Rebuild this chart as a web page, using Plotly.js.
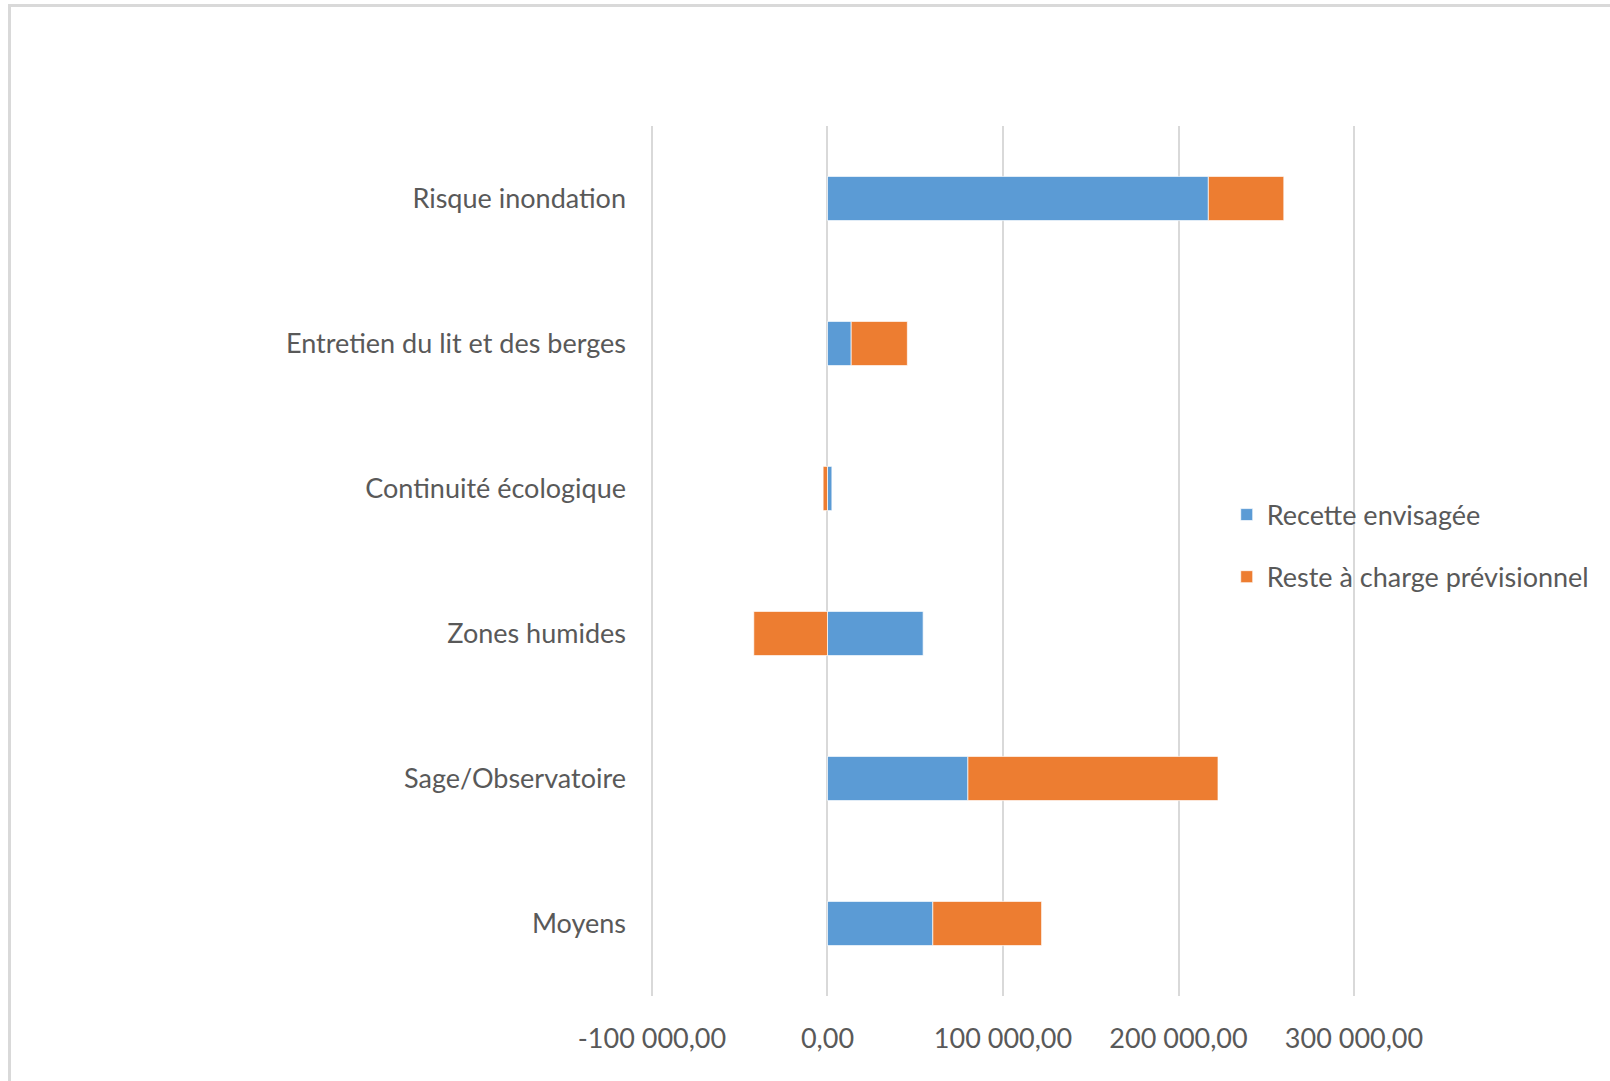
<!DOCTYPE html>
<html>
<head>
<meta charset="utf-8">
<script src="https://cdn.plot.ly/plotly-3.0.1.min.js"></script>
<style>
  html, body { margin: 0; padding: 0; background: #fff; }
  #wrap { position: relative; width: 1610px; height: 1081px; }
  #chart { position: absolute; left: 0; top: 0; width: 1610px; height: 1081px; }
  #frame { position: absolute; left: 8px; top: 4px; width: 1610px; height: 1090px;
           border-top: 3px solid #d9d9d9; border-left: 3px solid #d9d9d9; pointer-events: none; }
</style>
</head>
<body>
<div id="wrap">
  <div id="chart"></div>
  <div id="frame"></div>
</div>
<script>
const categories = ["Risque inondation", "Entretien du lit et des berges", "Continuité écologique",
                    "Zones humides", "Sage/Observatoire", "Moyens"];
const recetteEnvisagee = [217000, 13500, 2500, 54500, 80000, 60000];
const resteACharge = [43000, 32000, -2500, -42000, 142500, 62000];
const seriesNames = ["Recette envisagée", "Reste à charge prévisionnel"];
const tickValues = [-100000, 0, 100000, 200000, 300000];
const tickLabels = ["-100 000,00", "0,00", "100 000,00", "200 000,00", "300 000,00"];

const FONT = 'Lato, "Liberation Sans", sans-serif';
const TXT = '#595959';
const FS = 27;

const traces = [
  {
    type: 'bar', orientation: 'h', name: seriesNames[0],
    y: categories, x: recetteEnvisagee,
    marker: { color: '#5B9BD5', line: { color: 'rgba(255,255,255,0.7)', width: 1 } },
    legendgroup: 'a', hoverinfo: 'x+y'
  },
  {
    type: 'bar', orientation: 'h', name: seriesNames[1],
    y: categories, x: resteACharge,
    marker: { color: '#ED7D31', line: { color: 'rgba(255,255,255,0.7)', width: 1 } },
    legendgroup: 'b', hoverinfo: 'x+y'
  }
];

const layout = {
  width: 1610, height: 1081,
  paper_bgcolor: '#ffffff', plot_bgcolor: '#ffffff',
  margin: { l: 649, r: 253, t: 126, b: 85, pad: 0, autoexpand: false },
  barmode: 'relative',
  bargap: 0.695,
  font: { family: FONT, size: FS, color: TXT },
  showlegend: true,
  legend: {
    x: 0.816, y: 0.581, xanchor: 'left', yanchor: 'top',
    bgcolor: 'rgba(0,0,0,0)', borderwidth: 0,
    traceorder: 'grouped', tracegroupgap: 24,
    font: { family: FONT, size: FS, color: TXT }
  },
  xaxis: {
    range: [-101700, 301700],
    tickmode: 'array', tickvals: tickValues, ticktext: tickLabels,
    showgrid: true, gridcolor: '#d9d9d9', gridwidth: 2,
    zeroline: true, zerolinecolor: '#d9d9d9', zerolinewidth: 2,
    showline: false, ticks: '',
    ticklabelstandoff: 24,
    tickfont: { family: FONT, size: FS, color: TXT },
    fixedrange: true
  },
  yaxis: {
    type: 'category', autorange: 'reversed',
    showgrid: false, zeroline: false, showline: false, ticks: '',
    ticklabelstandoff: 22,
    tickfont: { family: FONT, size: FS, color: TXT },
    fixedrange: true
  }
};

Plotly.newPlot('chart', traces, layout, { displayModeBar: false, staticPlot: true });
</script>
</body>
</html>
